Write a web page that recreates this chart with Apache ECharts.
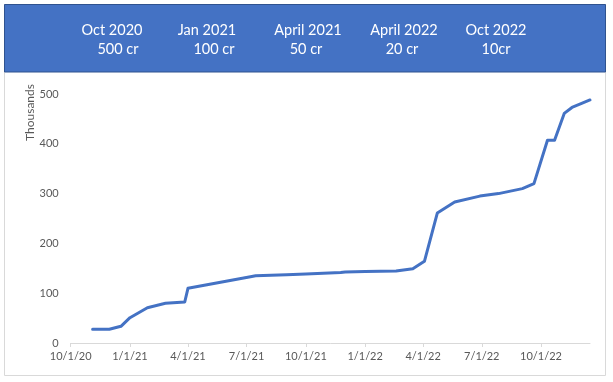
<!DOCTYPE html>
<html>
<head>
<meta charset="utf-8">
<script src="https://cdn.jsdelivr.net/npm/echarts@6/dist/echarts.min.js"></script>
<style>
  html, body { margin: 0; padding: 0; background: #ffffff; }
  #chart { width: 613px; height: 382px; }
</style>
</head>
<body>
<div id="chart"></div>
<script>
// ---- data ----
const dates = [
  '2020-11-04', '2020-11-30', '2020-12-03', '2020-12-18', '2021-01-01',
  '2021-01-28', '2021-02-25', '2021-03-27', '2021-04-01', '2021-07-07',
  '2021-07-15', '2021-09-01', '2021-10-01', '2021-11-24', '2021-12-01',
  '2022-01-01', '2022-02-18', '2022-03-16', '2022-04-03', '2022-04-23',
  '2022-05-20', '2022-06-28', '2022-07-27', '2022-09-02', '2022-09-20',
  '2022-10-11', '2022-10-22', '2022-11-06', '2022-11-18', '2022-12-03',
  '2022-12-16'
];
const values = [
  27.5, 27.5, 31.5, 33.5, 50.8,
  70.9, 79.7, 82.3, 109.8, 133,
  135, 137, 138.5, 141.5, 142.5,
  143.5, 144.6, 149, 164, 261,
  283, 295, 300, 310, 320,
  407, 407, 461, 473, 481,
  488
];
const xTickDates = ['2020-10-01', '2021-01-01', '2021-04-01', '2021-07-01', '2021-10-01',
                    '2022-01-01', '2022-04-01', '2022-07-01', '2022-10-01'];
const xStart = '2020-10-01';
const xEnd = '2022-12-16';
const yTicks = [0, 100, 200, 300, 400, 500];
const headerTop = ['Oct 2020', 'Jan 2021', 'April 2021', 'April 2022', 'Oct 2022'];
const headerBottom = ['500 cr', '100 cr', '50 cr', '20 cr', '10cr'];
const yAxisTitle = 'Thousands';

// ---- layout (not data) ----
const headerTopX = [112, 207, 308, 404, 496];
const headerBottomX = [118, 214, 306, 402, 496];

// ---- helpers ----
const DAY = 86400000;
const origin = Date.parse(xStart + 'T00:00:00Z');
function dayIndex(s) { return (Date.parse(s + 'T00:00:00Z') - origin) / DAY; }
function fmtDay(v) {
  const d = new Date(origin + Math.round(v) * DAY);
  return (d.getUTCMonth() + 1) + '/' + d.getUTCDate() + '/' + String(d.getUTCFullYear()).slice(2);
}

const seriesData = dates.map((d, i) => [dayIndex(d), values[i]]);
const tickVals = xTickDates.map(dayIndex);

const FONT = 'Lato, "Open Sans", sans-serif';
const graphics = [
  { type: 'rect', shape: { x: 4.5, y: 4.5, width: 601, height: 371 },
    style: { fill: '#ffffff', stroke: '#d9d9d9', lineWidth: 1 }, z: -10, silent: true },
  { type: 'rect', shape: { x: 4.5, y: 4.5, width: 601, height: 67.5 },
    style: { fill: '#4472C4', stroke: '#2F528F', lineWidth: 1 }, z: 1, silent: true },
  { type: 'text', x: 30, y: 112.5, rotation: Math.PI / 2,
    style: { text: yAxisTitle, fill: '#595959', font: '12px ' + FONT, align: 'center', verticalAlign: 'middle' } }
];
headerTop.forEach((t, i) => {
  graphics.push({ type: 'text', x: headerTopX[i], y: 30.5, z: 2,
    style: { text: t, fill: '#ffffff', font: '14.5px ' + FONT, align: 'center', verticalAlign: 'middle' } });
});
headerBottom.forEach((t, i) => {
  graphics.push({ type: 'text', x: headerBottomX[i], y: 49.5, z: 2,
    style: { text: t, fill: '#ffffff', font: '14.5px ' + FONT, align: 'center', verticalAlign: 'middle' } });
});

const chart = echarts.init(document.getElementById('chart'), null, { renderer: 'canvas' });
chart.setOption({
  backgroundColor: '#ffffff',
  animation: false,
  graphic: graphics,
  grid: { left: 70.7, right: 23, top: 94, bottom: 39, containLabel: false },
  xAxis: {
    type: 'value',
    min: dayIndex(xStart),
    max: dayIndex(xEnd),
    axisLine: { show: true, lineStyle: { color: '#d9d9d9', width: 1 } },
    axisTick: { show: true, length: 4, inside: false, customValues: tickVals, lineStyle: { color: '#d9d9d9' } },
    axisLabel: { customValues: tickVals, formatter: fmtDay, color: '#595959', fontFamily: FONT, fontSize: 11, margin: 8 },
    splitLine: { show: false }
  },
  yAxis: {
    type: 'value',
    min: yTicks[0],
    max: yTicks[yTicks.length - 1],
    interval: yTicks[1] - yTicks[0],
    axisLine: { show: false },
    axisTick: { show: false },
    axisLabel: { color: '#595959', fontFamily: FONT, fontSize: 11, margin: 12 },
    splitLine: { show: false }
  },
  series: [{
    type: 'line',
    data: seriesData,
    showSymbol: false,
    symbol: 'none',
    lineStyle: { color: '#4472C4', width: 3, join: 'round', cap: 'round' },
    itemStyle: { color: '#4472C4' }
  }]
});
</script>
</body>
</html>
